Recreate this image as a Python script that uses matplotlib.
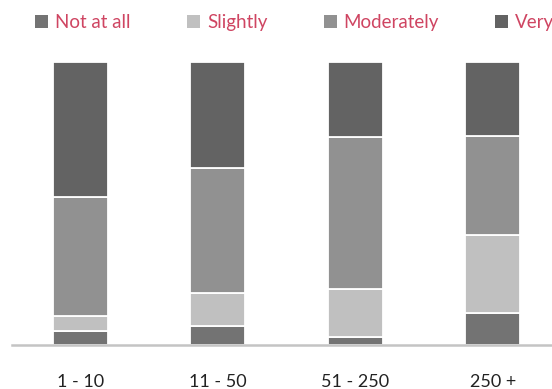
import matplotlib.pyplot as plt
from matplotlib.patches import Patch

plt.rcParams['font.family'] = ['Lato', 'DejaVu Sans']

groups = ['1 - 10', '11 - 50', '51 - 250', '250 +']
levels = ['Not at all', 'Slightly', 'Moderately', 'Very']
not_at_all = [5.1, 6.7, 3.0, 11.3]
slightly = [5.0, 11.7, 16.7, 27.4]
moderately = [42.3, 44.2, 53.8, 35.2]
very = [47.6, 37.4, 26.5, 26.1]

colors = ['#737373', '#c0c0c0', '#919191', '#636363']

fig = plt.figure(figsize=(5.52, 3.89), dpi=100)
# axes runs a bit past the right edge, the last legend entry gets clipped
ax = fig.add_axes([11.75 / 552, 44 / 389, 550 / 552, 283 / 389])

x = list(range(len(groups)))
bottom = [0.0] * len(groups)
for vals, col in zip([not_at_all, slightly, moderately, very], colors):
    ax.bar(x, vals, width=0.4, bottom=bottom, color=col,
           edgecolor='white', linewidth=1.3)
    bottom = [b + v for b, v in zip(bottom, vals)]

ax.set_xlim(-0.5, 3.5)
ax.set_ylim(0, 100)
ax.set_yticks([])
ax.set_xticks(x)
ax.set_xticklabels(groups, fontsize=13, color='#222222')
ax.tick_params(axis='x', length=0, pad=21)
for s in ['top', 'right', 'left']:
    ax.spines[s].set_visible(False)
ax.spines['bottom'].set_color('#c4c4c4')
ax.spines['bottom'].set_linewidth(1.8)

handles = [Patch(facecolor=c, edgecolor='none') for c in colors]
leg = fig.legend(handles, levels, loc='upper left', bbox_to_anchor=(35 / 552, 1 - 14 / 389),
                 ncol=4, frameon=False, fontsize=13.5, handlelength=0.7,
                 handleheight=0.7, handletextpad=0.37, columnspacing=3.0,
                 borderaxespad=0, borderpad=0)
for t in leg.get_texts():
    t.set_color('#cf4562')

fig.savefig('out.png', dpi=100)
